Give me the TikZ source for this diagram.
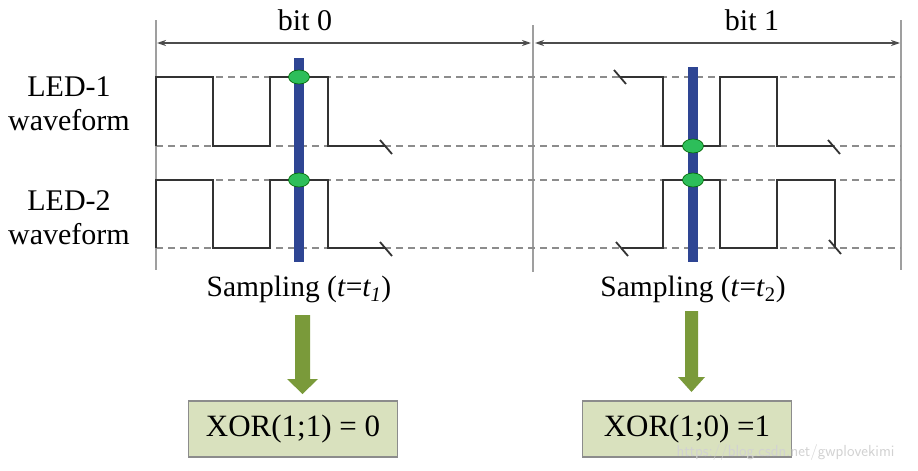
\documentclass[tikz,border=0pt]{standalone}
\usepackage{fontspec}
\setmainfont{Liberation Serif}
\usetikzlibrary{arrows.meta,shapes.geometric}
\definecolor{barblue}{HTML}{2E4593}
\definecolor{dotgreen}{HTML}{2DBE5A}
\definecolor{arrowgreen}{HTML}{7A9A3A}
\definecolor{boxfill}{HTML}{D9E1BE}
\definecolor{wave}{HTML}{333333}
\tikzset{
  guide/.style={draw=gray!75, line width=1.2pt},
  dimline/.style={draw=gray!60!black, line width=1.4pt, {Stealth[length=9pt,width=6pt]}-{Stealth[length=9pt,width=6pt]}},
  level/.style={draw=gray!90, dash pattern=on 7pt off 5pt, line width=1.1pt},
  wavef/.style={draw=wave, line width=2.8pt, line join=miter},
  tick/.style={draw=wave, line width=1.8pt},
  bar/.style={fill=barblue, draw=none},
  dot/.style={ellipse, fill=dotgreen, draw=green!40!black, line width=0.6pt, minimum width=21pt, minimum height=14pt, inner sep=0pt},
  bigarrow/.style={fill=arrowgreen, draw=none},
  resbox/.style={draw=gray!90, line width=1.2pt, fill=boxfill, minimum width=209pt, minimum height=56pt, font=\fontsize{31}{34}\selectfont},
  lbl/.style={font=\fontsize{30}{34}\selectfont, align=center},
  samp/.style={font=\fontsize{29.5}{32}\selectfont},
  bitlbl/.style={font=\fontsize{30}{32}\selectfont}
}
\begin{document}
\begin{tikzpicture}[x=1pt,y=-1pt]
\useasboundingbox (0,0) rectangle (918,471);
% vertical guides
\coordinate (gA1) at (156,20); \coordinate (gA2) at (156,270);
\coordinate (gB1) at (533,25); \coordinate (gB2) at (533,272);
\coordinate (gC1) at (901,20); \coordinate (gC2) at (901,270);
\draw[guide] (gA1) -- (gA2);
\draw[guide] (gB1) -- (gB2);
\draw[guide] (gC1) -- (gC2);
% dimension arrows
\coordinate (dA) at (157,43); \coordinate (dB1) at (531,43);
\coordinate (dB2) at (535,43); \coordinate (dC) at (900,43);
\draw[dimline] (dA) -- (dB1);
\draw[dimline] (dB2) -- (dC);
\node[bitlbl] (bit0) at (305,20) {bit 0};
\node[bitlbl] (bit1) at (752,20) {bit 1};
% dashed levels
\foreach \yy/\nm in {77/h1,146/l1,180/h2,248/l2}{
  \coordinate (\nm s) at (156,\yy); \coordinate (\nm e) at (901,\yy);
  \draw[level] (\nm s) -- (\nm e);
}
% labels
\node[lbl] (led1) at (69,104) {LED-1\\waveform};
\node[lbl] (led2) at (69,218) {LED-2\\waveform};
% bit 0 waveforms
\draw[wavef] (156,146) -- (156,77) -- (213,77) -- (213,146) -- (270,146) -- (270,77) -- (328,77) -- (328,146) -- (386,146);
\draw[tick] (380,140) -- (392,154);
\draw[wavef] (156,248) -- (156,180) -- (213,180) -- (213,248) -- (270,248) -- (270,180) -- (328,180) -- (328,248) -- (386,248);
\draw[tick] (380,242) -- (392,256);
% bit 1 waveforms
\draw[tick] (614,70) -- (626,84);
\draw[wavef] (620,77) -- (663,77) -- (663,146) -- (720,146) -- (720,77) -- (777,77) -- (777,146) -- (834,146);
\draw[tick] (828,140) -- (840,154);
\draw[tick] (616,242) -- (628,256);
\draw[wavef] (622,248) -- (663,248) -- (663,180) -- (720,180) -- (720,248) -- (777,248) -- (777,180) -- (835,180) -- (835,248);
\draw[tick] (829,240) -- (841,254);
% sampling bars
\fill[bar] (294,58) rectangle (304,262);
\fill[bar] (688,67) rectangle (698,262);
\node[dot] (s1a) at (299,77) {};
\node[dot] (s1b) at (299,180) {};
\node[dot] (s2a) at (693,146) {};
\node[dot] (s2b) at (693,180) {};
% sampling labels
\node[samp] (samp1) at (299,289) {Sampling (\textit{t}=\textit{t\textsubscript{1}})};
\node[samp] (samp2) at (693,289) {Sampling (\textit{t}=\textit{t}\textsubscript{2})};
% result boxes
\node[resbox] (res1) at (293,429) {XOR(1;1) = 0};
\node[resbox] (res2) at (687,429) {XOR(1;0) =1};
% big arrows
\fill[bigarrow] (295,315) -- (310,315) -- (310,379) -- (318,379) -- (302.5,394) -- (287,379) -- (295,379) -- cycle;
\fill[bigarrow] (685,311) -- (698,311) -- (698,377) -- (705,377) -- (691.5,392) -- (678,377) -- (685,377) -- cycle;
% watermark
\node[font=\fontsize{16}{18}\selectfont\sffamily, text=gray!35, anchor=west] (wm) at (673,452) {https://blog.csdn.net/gwplovekimi};
\end{tikzpicture}
\end{document}
